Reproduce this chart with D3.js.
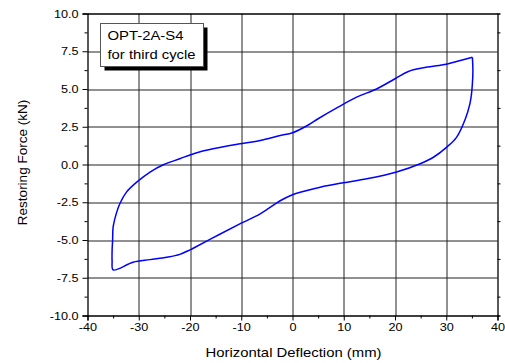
<!DOCTYPE html>
<html>
<head>
<meta charset="utf-8">
<script src="https://cdn.jsdelivr.net/npm/d3@7"></script>
<style>
  body { margin: 0; background: #fff; }
  svg text { font-family: "Liberation Sans", Arial, sans-serif; fill: #000; }
</style>
</head>
<body>
<div id="chart"></div>
<script>
// hysteresis loop, third cycle
const deflection = [35.1, 35.2, 35.1, 34.9, 34.6, 33.7, 32.0, 30.1, 27.5, 24.9, 20.3, 14.5, 9.9, 5.4, 1.5, 0,
  -2.4, -6.3, -9.9, -14.1, -19.0, -20.0, -22.0, -24.5, -27.8, -31.1, -35.0,
  -35.2, -35.2, -35.1, -35.0, -34.4, -33.7, -32.4, -30.4, -27.8, -25.2, -22.0, -19.0, -15.5, -10.2, -6.3, -2.4, 0,
  3.0, 5.0, 8.9, 12.5, 16.4, 20.0, 22.6, 25.5, 29.4, 32.0, 35.1];
const force = [7.1, 6.2, 5.35, 4.6, 4.0, 3.0, 1.8, 1.15, 0.48, 0.05, -0.5, -0.95, -1.21, -1.5, -1.84, -2.0,
  -2.4, -3.27, -3.87, -4.6, -5.48, -5.65, -5.95, -6.14, -6.3, -6.47, -6.98,
  -6.4, -5.7, -5.0, -4.15, -3.27, -2.6, -1.83, -1.17, -0.5, -0.02, 0.38, 0.75, 1.04, 1.37, 1.59, 1.92, 2.1,
  2.6, 3.03, 3.8, 4.46, 5.0, 5.68, 6.16, 6.4, 6.6, 6.82, 7.1];
const xTicks = [-40, -30, -20, -10, 0, 10, 20, 30, 40];
const yTicks = [-10, -7.5, -5, -2.5, 0, 2.5, 5, 7.5, 10];
const legendLines = ['OPT-2A-S4', 'for third cycle'];

const W = 505, H = 363;
const margin = { top: 13.5, right: 7.5, bottom: 47.5, left: 87.5 };
const w = W - margin.left - margin.right;
const h = H - margin.top - margin.bottom;
const stretch = 1.15; // the original text is a bit wide

const svg = d3.select('#chart').append('svg')
  .attr('width', W).attr('height', H);
const g = svg.append('g')
  .attr('transform', `translate(${margin.left},${margin.top})`);

const x = d3.scaleLinear().domain([-40, 40]).range([0, w]);
const y = d3.scaleLinear().domain([-10, 10]).range([h, 0]);

// grid
g.append('g').selectAll('line').data(xTicks.slice(1, -1)).join('line')
  .attr('x1', d => Math.round(x(d)) + 0.5).attr('x2', d => Math.round(x(d)) + 0.5)
  .attr('y1', 0).attr('y2', h)
  .attr('stroke', '#222').attr('stroke-width', 1);
g.append('g').selectAll('line').data(yTicks.slice(1, -1)).join('line')
  .attr('y1', d => Math.round(y(d)) + 0.5).attr('y2', d => Math.round(y(d)) + 0.5)
  .attr('x1', 0).attr('x2', w)
  .attr('stroke', '#222').attr('stroke-width', 1);

// axes
const xMinor = d3.range(-35, 40, 10);
const yMinor = d3.range(-8.75, 10, 2.5);
const hyphen = f => d => f(d).replace('\u2212', '-');

g.append('g').attr('transform', `translate(0,${h})`)
  .call(d3.axisBottom(x).tickValues(xTicks).tickSize(5).tickPadding(3).tickFormat(hyphen(d3.format('d'))))
  .selectAll('.tick text').attr('transform', `scale(${stretch},1)`);
g.append('g').attr('transform', `translate(0,${h})`)
  .call(d3.axisBottom(x).tickValues(xMinor).tickSize(3).tickFormat(''))
  .select('.domain').remove();

g.append('g')
  .call(d3.axisLeft(y).tickValues(yTicks).tickSize(5).tickPadding(4).tickFormat(hyphen(d3.format('.1f'))))
  .selectAll('.tick text')
  .attr('x', -9 / stretch)
  .attr('transform', `scale(${stretch},1)`);
g.append('g')
  .call(d3.axisLeft(y).tickValues(yMinor).tickSize(3).tickFormat(''))
  .select('.domain').remove();

g.append('g').attr('transform', `translate(${w},0)`)
  .call(d3.axisRight(y).tickValues(yMinor).tickSize(3).tickFormat(''));
g.append('g')
  .call(d3.axisTop(x).tickValues([]).tickSizeOuter(0));

g.selectAll('.domain').attr('stroke', '#000').attr('stroke-width', 1.3);
g.selectAll('.tick line').attr('stroke', '#000');
g.selectAll('.tick text').style('font-size', '11px');

// loop
const pts = deflection.map((d, i) => [d, force[i]]);
g.append('path')
  .datum(pts)
  .attr('fill', 'none')
  .attr('stroke', '#0000ff')
  .attr('stroke-width', 1.5)
  .attr('stroke-linejoin', 'round')
  .attr('d', d3.line().x(d => x(d[0])).y(d => y(d[1])).curve(d3.curveCatmullRom.alpha(0.5)));

// legend
const lg = svg.append('g').attr('transform', 'translate(100.5,23.5)');
lg.append('rect').attr('x', 4).attr('y', 4).attr('width', 103).attr('height', 43).attr('fill', '#000');
lg.append('rect').attr('width', 103).attr('height', 43).attr('fill', '#fff')
  .attr('stroke', '#555').attr('stroke-width', 1);
lg.selectAll('text').data(legendLines).join('text')
  .attr('x', 7).attr('y', (d, i) => 16 + i * 19)
  .attr('textLength', (d, i) => i === 0 ? 76 : 88)
  .attr('lengthAdjust', 'spacingAndGlyphs')
  .style('font-size', '13px')
  .text(d => d);

// axis titles
svg.append('text')
  .attr('x', margin.left + w / 2 + 1).attr('y', 357)
  .attr('text-anchor', 'middle').style('font-size', '13.5px')
  .attr('textLength', 176).attr('lengthAdjust', 'spacingAndGlyphs')
  .text('Horizontal Deflection (mm)');
svg.append('text')
  .attr('transform', `translate(27,${margin.top + h / 2 - 2}) rotate(-90)`)
  .attr('text-anchor', 'middle').style('font-size', '13.5px')
  .text('Restoring Force (kN)');
</script>
</body>
</html>
